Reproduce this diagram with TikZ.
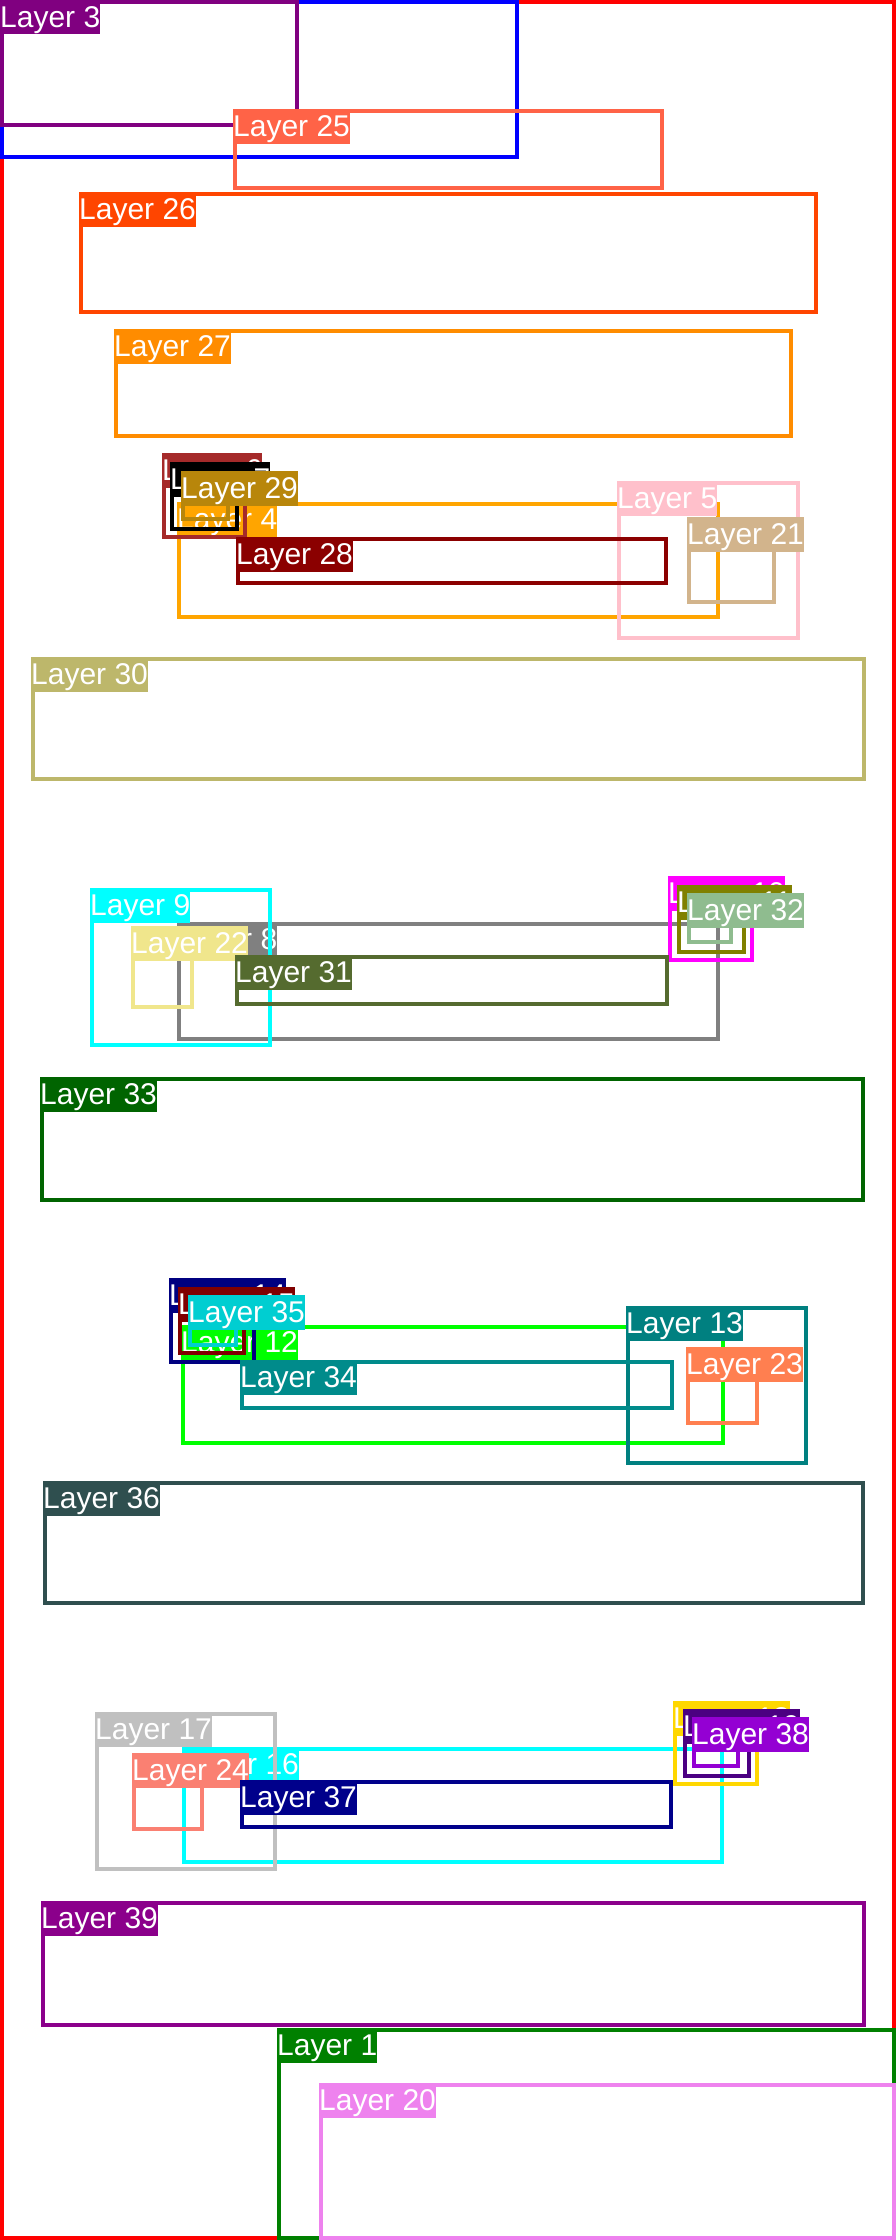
\documentclass[tikz,border=0pt]{standalone}
\usepackage{fontspec}
\setmainfont{Liberation Sans}
\definecolor{cA}{HTML}{FF0000}
\definecolor{cB}{HTML}{008000}
\definecolor{cC}{HTML}{0000FF}
\definecolor{cD}{HTML}{800080}
\definecolor{cE}{HTML}{FFA500}
\definecolor{cF}{HTML}{FFC0CB}
\definecolor{cG}{HTML}{A52A2A}
\definecolor{cH}{HTML}{000000}
\definecolor{cI}{HTML}{808080}
\definecolor{cJ}{HTML}{00FFFF}
\definecolor{cK}{HTML}{FF00FF}
\definecolor{cL}{HTML}{808000}
\definecolor{cM}{HTML}{00FF00}
\definecolor{cN}{HTML}{008080}
\definecolor{cO}{HTML}{000080}
\definecolor{cP}{HTML}{800000}
\definecolor{cQ}{HTML}{00FFFF}
\definecolor{cR}{HTML}{C0C0C0}
\definecolor{cS}{HTML}{FFD700}
\definecolor{cT}{HTML}{4B0082}
\definecolor{cU}{HTML}{EE82EE}
\definecolor{cV}{HTML}{D2B48C}
\definecolor{cW}{HTML}{F0E68C}
\definecolor{cX}{HTML}{FF7F50}
\definecolor{cY}{HTML}{FA8072}
\definecolor{cZ}{HTML}{FF6347}
\definecolor{dA}{HTML}{FF4500}
\definecolor{dB}{HTML}{FF8C00}
\definecolor{dC}{HTML}{8B0000}
\definecolor{dD}{HTML}{B8860B}
\definecolor{dE}{HTML}{BDB76B}
\definecolor{dF}{HTML}{556B2F}
\definecolor{dG}{HTML}{8FBC8F}
\definecolor{dH}{HTML}{006400}
\definecolor{dI}{HTML}{008B8B}
\definecolor{dJ}{HTML}{00CED1}
\definecolor{dK}{HTML}{2F4F4F}
\definecolor{dL}{HTML}{00008B}
\definecolor{dM}{HTML}{9400D3}
\definecolor{dN}{HTML}{8B008B}
\tikzset{
  layerline/.style={line width=3.6pt},
  layerlab/.style={anchor=north west, inner sep=0pt, text=white,
    font=\fontsize{30}{36}\selectfont, text height=27.3pt, text depth=7pt}
}
% #1 node name, #2 colour, #3 x0, #4 y0, #5 x1, #6 y1, #7 label text (empty: none)
\newcommand\mylayer[7]{%
  \pgfmathsetmacro\lax{#3+1.8}\pgfmathsetmacro\lay{#4+1.8}%
  \pgfmathsetmacro\lbx{#5-1.8}\pgfmathsetmacro\lby{#6-1.8}%
  \draw[layerline, draw=#2] (\lax,\lay) rectangle (\lbx,\lby);
  \if\relax\detokenize{#7}\relax\else
  \node[layerlab, fill=#2] (#1) at (#3,#4) {#7};
  \fi
}
\begin{document}
\begin{tikzpicture}[x=1pt, y=-1pt]
\useasboundingbox (0,0) rectangle (896,2240);
\fill[white] (0,0) rectangle (896,2240);
\mylayer{l0}{cA}{0}{0}{896}{2240}{}
\mylayer{l1}{cB}{277}{2028}{896}{2240}{Layer 1}
\mylayer{l2}{cC}{0}{0}{519}{159}{}
\mylayer{l3}{cD}{0}{0}{299}{127}{Layer 3}
\mylayer{l4}{cE}{177}{502}{720}{619}{Layer 4}
\mylayer{l5}{cF}{617}{481}{800}{640}{Layer 5}
\mylayer{l6}{cG}{162}{453}{247}{539}{Layer 6}
\mylayer{l7}{cH}{170}{462}{239}{531}{Layer 7}
\mylayer{l8}{cI}{177}{922}{720}{1041}{Layer 8}
\mylayer{l9}{cJ}{90}{888}{272}{1047}{Layer 9}
\mylayer{l10}{cK}{668}{876}{754}{962}{Layer 10}
\mylayer{l11}{cL}{677}{885}{746}{954}{Layer 11}
\mylayer{l12}{cM}{181}{1325}{725}{1445}{Layer 12}
\mylayer{l13}{cN}{626}{1306}{808}{1465}{Layer 13}
\mylayer{l14}{cO}{169}{1278}{256}{1364}{Layer 14}
\mylayer{l15}{cP}{178}{1287}{246}{1355}{Layer 15}
\mylayer{l16}{cQ}{182}{1747}{724}{1864}{Layer 16}
\mylayer{l17}{cR}{95}{1712}{277}{1871}{Layer 17}
\mylayer{l18}{cS}{673}{1701}{759}{1786}{Layer 18}
\mylayer{l19}{cT}{683}{1709}{751}{1778}{Layer 19}
\mylayer{l20}{cU}{319}{2083}{896}{2240}{Layer 20}
\mylayer{l21}{cV}{687}{517}{776}{604}{Layer 21}
\mylayer{l22}{cW}{131}{926}{194}{1009}{Layer 22}
\mylayer{l23}{cX}{686}{1347}{759}{1425}{Layer 23}
\mylayer{l24}{cY}{132}{1753}{204}{1831}{Layer 24}
\mylayer{l25}{cZ}{233}{109}{664}{190}{Layer 25}
\mylayer{l26}{dA}{79}{192}{818}{314}{Layer 26}
\mylayer{l27}{dB}{114}{329}{793}{438}{Layer 27}
\mylayer{l28}{dC}{236}{537}{668}{585}{Layer 28}
\mylayer{l29}{dD}{181}{471}{230}{521}{Layer 29}
\mylayer{l30}{dE}{31}{657}{866}{781}{Layer 30}
\mylayer{l31}{dF}{235}{955}{669}{1006}{Layer 31}
\mylayer{l32}{dG}{687}{893}{733}{944}{Layer 32}
\mylayer{l33}{dH}{40}{1077}{865}{1202}{Layer 33}
\mylayer{l34}{dI}{240}{1360}{674}{1410}{Layer 34}
\mylayer{l35}{dJ}{188}{1295}{238}{1347}{Layer 35}
\mylayer{l36}{dK}{43}{1481}{865}{1605}{Layer 36}
\mylayer{l37}{dL}{240}{1780}{673}{1829}{Layer 37}
\mylayer{l38}{dM}{692}{1717}{740}{1768}{Layer 38}
\mylayer{l39}{dN}{41}{1901}{866}{2027}{Layer 39}
\end{tikzpicture}
\end{document}
